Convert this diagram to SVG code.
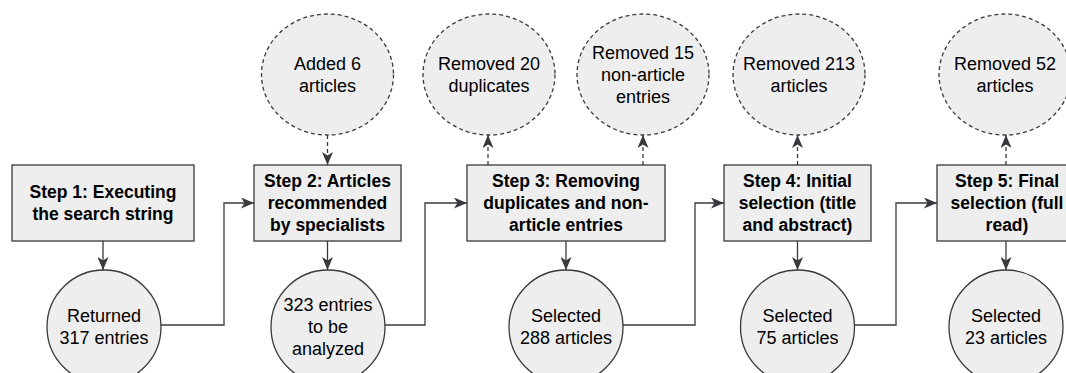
<svg xmlns="http://www.w3.org/2000/svg" width="1066" height="373" viewBox="0 0 1066 373">
<style>
.box{fill:#eeeeee;stroke:#36393d;stroke-width:1.3}
.dash{fill:#eeeeee;stroke:#36393d;stroke-width:1.3;stroke-dasharray:4 3}
.b{font-family:"Liberation Sans",Arial,sans-serif;font-weight:bold;font-size:17.5px;fill:#000;text-anchor:middle}
.r{font-family:"Liberation Sans",Arial,sans-serif;font-size:18px;fill:#000;text-anchor:middle}
.e{fill:none;stroke:#36393d;stroke-width:1.3;marker-end:url(#ah)}
.ed{fill:none;stroke:#36393d;stroke-width:1.3;stroke-dasharray:4 3;marker-end:url(#ah)}
</style>
<defs>
<marker id="ah" markerUnits="userSpaceOnUse" markerWidth="13" markerHeight="11" viewBox="0 0 13 11" refX="13" refY="5.5" orient="auto">
<path d="M0,0 L13,5.5 L0,11 L3.5,5.5 Z" fill="#36393d"/>
</marker>
</defs>
<g id="connectors">
<path class="e" d="M103,241 V270"/>
<path class="e" d="M161,325 H224 V203 H254"/>
<path class="ed" d="M327.5,135 V165"/>
<path class="e" d="M327.5,241 V270"/>
<path class="e" d="M385,325 H425 V203 H467"/>
<path class="ed" d="M488,165 V135"/>
<path class="ed" d="M643,165 V135"/>
<path class="e" d="M566,241 V270"/>
<path class="e" d="M623,325 H695 V203 H724"/>
<path class="ed" d="M797.5,165 V135"/>
<path class="e" d="M797.5,241 V270"/>
<path class="e" d="M854.5,325 H896 V203 H937"/>
<path class="ed" d="M1006,165 V135"/>
<path class="e" d="M1006,241 V270"/>
</g>
<g id="s1"><rect class="box" x="12" y="165" width="182" height="76"/>
<text class="b" x="103" y="198">Step 1: Executing</text><text class="b" x="103" y="220">the search string</text></g>
<g id="s2"><rect class="box" x="254" y="165" width="147" height="76"/>
<text class="b" x="327.5" y="187">Step 2: Articles</text><text class="b" x="327.5" y="209">recommended</text><text class="b" x="327.5" y="231">by specialists</text></g>
<g id="s3"><rect class="box" x="467" y="165" width="198" height="76"/>
<text class="b" x="566" y="187">Step 3: Removing</text><text class="b" x="566" y="209">duplicates and non-</text><text class="b" x="566" y="231">article entries</text></g>
<g id="s4"><rect class="box" x="724" y="165" width="147" height="76"/>
<text class="b" x="797.5" y="187">Step 4: Initial</text><text class="b" x="797.5" y="209">selection (title</text><text class="b" x="797.5" y="231">and abstract)</text></g>
<g id="s5"><rect class="box" x="937" y="165" width="140" height="76"/>
<text class="b" x="1007" y="187">Step 5: Final</text><text class="b" x="1007" y="209">selection (full</text><text class="b" x="1007" y="231">read)</text></g>
<g id="c1"><circle class="box" cx="104" cy="327" r="57"/>
<text class="r" x="104" y="322">Returned</text><text class="r" x="104" y="344">317 entries</text></g>
<g id="c2"><circle class="box" cx="328" cy="327" r="57"/>
<text class="r" x="328" y="311">323 entries</text><text class="r" x="328" y="333">to be</text><text class="r" x="328" y="355">analyzed</text></g>
<g id="c3"><circle class="box" cx="566" cy="327" r="57"/>
<text class="r" x="566" y="322">Selected</text><text class="r" x="566" y="344">288 articles</text></g>
<g id="c4"><circle class="box" cx="797.5" cy="327" r="57"/>
<text class="r" x="797.5" y="322">Selected</text><text class="r" x="797.5" y="344">75 articles</text></g>
<g id="c5"><circle class="box" cx="1006" cy="327" r="57"/>
<text class="r" x="1006" y="322">Selected</text><text class="r" x="1006" y="344">23 articles</text></g>
<g id="d2"><ellipse class="dash" cx="327.5" cy="74.5" rx="66" ry="60.5"/>
<text class="r" x="327.5" y="70">Added 6</text><text class="r" x="327.5" y="92">articles</text></g>
<g id="d3a"><ellipse class="dash" cx="489" cy="74.5" rx="66" ry="60.5"/>
<text class="r" x="489" y="70">Removed 20</text><text class="r" x="489" y="92">duplicates</text></g>
<g id="d3b"><ellipse class="dash" cx="643" cy="74.5" rx="66" ry="60.5"/>
<text class="r" x="643" y="59">Removed 15</text><text class="r" x="643" y="81">non-article</text><text class="r" x="643" y="103">entries</text></g>
<g id="d4"><ellipse class="dash" cx="799" cy="74.5" rx="66" ry="60.5"/>
<text class="r" x="799" y="70">Removed 213</text><text class="r" x="799" y="92">articles</text></g>
<g id="d5"><ellipse class="dash" cx="1005" cy="74.5" rx="66" ry="60.5"/>
<text class="r" x="1005" y="70">Removed 52</text><text class="r" x="1005" y="92">articles</text></g>
</svg>
